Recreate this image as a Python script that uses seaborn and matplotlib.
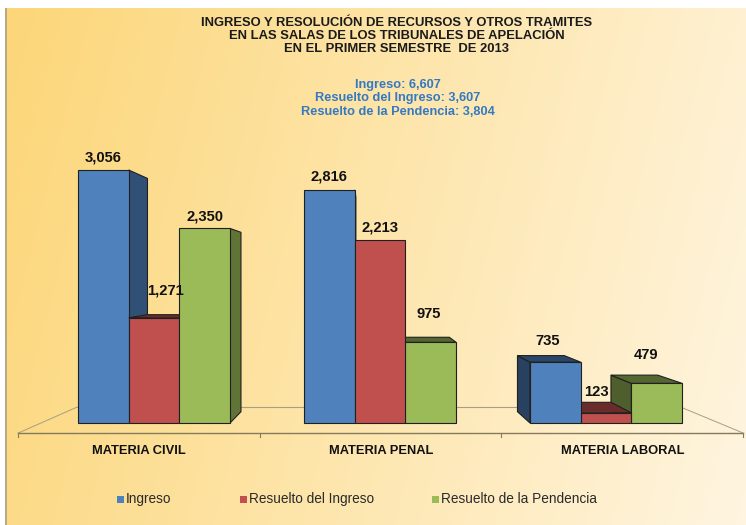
import numpy as np
import pandas as pd
import matplotlib
matplotlib.use("Agg")
import matplotlib.pyplot as plt
from matplotlib.patches import Polygon, Rectangle
import matplotlib.colors as mcolors
import seaborn as sns

# ---------------- data ----------------
materias = ["MATERIA CIVIL", "MATERIA PENAL", "MATERIA LABORAL"]
series = ["Ingreso", "Resuelto del Ingreso", "Resuelto de la Pendencia"]
ingreso = [3056, 2816, 735]
resuelto_ingreso = [1271, 2213, 123]
resuelto_pendencia = [2350, 975, 479]
title_lines = ["INGRESO Y RESOLUCIÓN DE RECURSOS Y OTROS TRAMITES",
               "EN LAS SALAS DE LOS TRIBUNALES DE APELACIÓN",
               "EN EL PRIMER SEMESTRE  DE 2013"]
totals_lines = ["Ingreso: 6,607",
                "Resuelto del Ingreso: 3,607",
                "Resuelto de la Pendencia: 3,804"]

# ---------------- style ----------------
colors = ["#4F81BD", "#C0504D", "#9BBB59"]
label_lift_px = {  # how far each value label sits above its bar top (pixels)
    "Ingreso": [12, 13, 21],
    "Resuelto del Ingreso": [27, 12, 21],
    "Resuelto de la Pendencia": [11.5, 28, 28],
}
W, H = 746, 525
X0PIX, XSTEP = 154.0, 226.0      # pixel x of category 0, pixels per category
Y0PIX = 423.0                    # pixel y of value 0
UPP = 3056 / 253.0               # value units per pixel
VP_PIX = (370.0, 278.0)          # perspective vanishing point (pixels)
BAR_DEPTH = 0.078
FLOOR_FRONT, FLOOR_BACK = -0.069, 0.11

plt.rcParams["font.family"] = ["Liberation Sans", "DejaVu Sans"]


def pix2data(px, py):
    return ((px - X0PIX) / XSTEP, (Y0PIX - py) * UPP)


fig = plt.figure(figsize=(W / 100, H / 100), dpi=100)

# background axes in pixel coordinates
bg = fig.add_axes([0, 0, 1, 1])
bg.set_xlim(0, W)
bg.set_ylim(H, 0)
bg.axis("off")
c_left = np.array(mcolors.to_rgb("#FCD678"))
c_right = np.array(mcolors.to_rgb("#FFF5E0"))
gx = np.linspace(0, 1, 300)[None, :]
gy = np.linspace(0, 1, 200)[:, None]
u = np.clip(0.85 * gx + 0.15 * gy, 0, 1)
img = c_left[None, None, :] * (1 - u[..., None]) + c_right[None, None, :] * u[..., None]
bg.imshow(img, extent=(7, W, H, 8), aspect="auto", zorder=0, interpolation="bilinear")
bg.add_patch(Rectangle((4.5, 8), 2.5, H - 8, color="#B8A884", lw=0, zorder=1))

# main axes
ax = fig.add_axes([0, 0, 1, 1])
ax.patch.set_alpha(0)

df = pd.DataFrame({
    "materia": materias * 3,
    "serie": np.repeat(series, 3),
    "valor": ingreso + resuelto_ingreso + resuelto_pendencia,
})
sns.barplot(data=df, x="materia", y="valor", hue="serie", order=materias,
            hue_order=series, palette=colors, width=0.673, gap=0, dodge=True,
            saturation=1, edgecolor="#202020", linewidth=0.8, legend=False,
            errorbar=None, ax=ax)

x_lo, v_hi = pix2data(0, 0)
x_hi, v_lo = pix2data(W, H)
ax.set_xlim(x_lo, x_hi)
ax.set_ylim(v_lo, v_hi)
ax.axis("off")

vx, vy = pix2data(*VP_PIX)


def recede(pt, s):
    return (pt[0] + s * (vx - pt[0]), pt[1] + s * (vy - pt[1]))


def shade(c, f):
    return tuple(np.array(mcolors.to_rgb(c)) * f)


bars = list(ax.patches)
for i, p in enumerate(bars):
    s_idx, m_idx = divmod(i, 3)
    x0 = p.get_x()
    w = p.get_width()
    h = p.get_height()
    x1 = x0 + w
    xc = x0 + w / 2
    fc = p.get_facecolor()
    z = 3 + 0.9 / (1 + 10 * abs(xc - vx))
    p.set_zorder(z)
    faces = []
    if x1 < vx:
        faces.append(([(x1, 0), (x1, h), recede((x1, h), BAR_DEPTH), recede((x1, 0), BAR_DEPTH)], 0.62))
    elif x0 > vx:
        faces.append(([(x0, 0), (x0, h), recede((x0, h), BAR_DEPTH), recede((x0, 0), BAR_DEPTH)], 0.5))
    if h < vy:
        faces.append(([(x0, h), (x1, h), recede((x1, h), BAR_DEPTH), recede((x0, h), BAR_DEPTH)], 0.55))
    for poly, f in faces:
        ax.add_patch(Polygon(poly, closed=True, facecolor=shade(fc, f),
                             edgecolor="#202020", lw=0.8, zorder=z - 0.001))
    # value label
    lift = label_lift_px[series[s_idx]][m_idx] * UPP
    if h < vy:
        bx = recede((xc, h), BAR_DEPTH)[0]
        lx = (xc + 2 * bx) / 3 if x1 < vx else (xc + bx) / 2
    else:
        lx = xc
    ax.text(lx, h + lift, f"{int(round(h)):,}", ha="center", va="center",
            fontsize=10.6, fontweight="bold", color="#111111", zorder=10)

# floor
n = len(materias)
fl = recede((-0.5, 0), FLOOR_FRONT)
fr = recede((n - 0.5, 0), FLOOR_FRONT)
bl = recede((-0.5, 0), FLOOR_BACK)
br = recede((n - 0.5, 0), FLOOR_BACK)
ax.plot([fl[0], fr[0]], [fl[1], fr[1]], color="#857A5C", lw=1.0, zorder=2)
ax.plot([bl[0], br[0]], [bl[1], br[1]], color="#A89E86", lw=0.8, zorder=1)
ax.plot([fl[0], bl[0]], [fl[1], bl[1]], color="#A89E86", lw=0.7, zorder=1)
ax.plot([fr[0], br[0]], [fr[1], br[1]], color="#A89E86", lw=0.7, zorder=1)
for b in np.arange(-0.5, n, 1.0):
    tp = recede((b, 0), FLOOR_FRONT)
    ax.plot([tp[0], tp[0]], [tp[1], tp[1] - 4 * UPP], color="#857A5C", lw=0.8, zorder=2)

# category labels
for i, m in enumerate(materias):
    cx = recede((i, 0), FLOOR_FRONT)[0]
    ax.text(cx, pix2data(0, 451)[1], m, ha="center", va="center",
            fontsize=9.3, fontweight="bold", color="#111111")

# title + totals
for k, t in enumerate(title_lines):
    fig.text(397 / W, 1 - (22.5 + 13.5 * k) / H, t, ha="center", va="center",
             fontsize=9.4, fontweight="bold", color="#1a1a1a")
for k, t in enumerate(totals_lines):
    fig.text(398 / W, 1 - (85 + 13.5 * k) / H, t, ha="center", va="center",
             fontsize=9.2, fontweight="bold", color="#3479C2")

# legend
leg_x = [117, 240, 432]
for sname, col, lxp in zip(series, colors, leg_x):
    bg.add_patch(Rectangle((lxp, 495.5), 7, 7, facecolor=col, edgecolor="none", zorder=2))
    bg.text(lxp + 9, 499, sname, ha="left", va="center", fontsize=9.8,
            color="#2a2a2a", zorder=3)

fig.savefig("out.png", dpi=100)
